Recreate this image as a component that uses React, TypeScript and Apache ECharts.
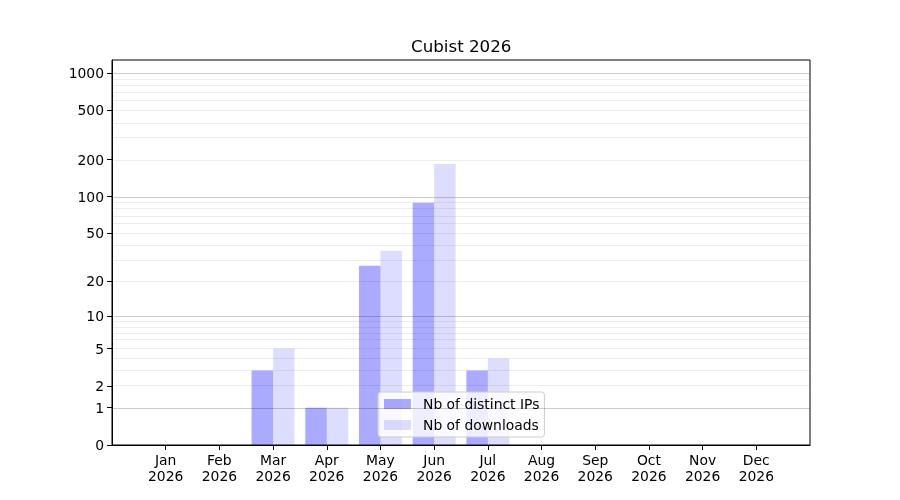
import React, { useEffect, useRef } from "react";
import * as echarts from "echarts";

const MONTHS = ["Jan", "Feb", "Mar", "Apr", "May", "Jun", "Jul", "Aug", "Sep", "Oct", "Nov", "Dec"];
const YEAR = "2026";
const DISTINCT_IPS = [0, 0, 3, 1, 27, 89, 3, 0, 0, 0, 0, 0];
const DOWNLOADS = [0, 0, 5, 1, 36, 184, 4, 0, 0, 0, 0, 0];
const Y_TICKS = [0, 1, 2, 5, 10, 20, 50, 100, 200, 500, 1000];
const MAJOR_GRID = [1, 10, 100, 1000];
const MINOR_GRID = [2, 3, 4, 5, 6, 7, 8, 9, 20, 30, 40, 50, 60, 70, 80, 90, 200, 300, 400, 500, 600, 700, 800, 900];
const Y_MAX = 1278;

const tf = (v: number) => Math.log10(1 + v);
const FONT = "DejaVu Sans";

export default function App() {
  const ref = useRef<HTMLDivElement>(null);
  useEffect(() => {
    if (!ref.current) return;
    const chart = echarts.init(ref.current, null, { renderer: "svg" });
    const cats = ["", ...MONTHS, ""];
    const pad = (arr: number[]) => [null, ...arr.map(tf), null];
    chart.setOption({
      animation: false,
      textStyle: { fontFamily: FONT },
      title: {
        text: "Cubist " + YEAR,
        left: 411,
        top: 37,
        padding: 0,
        textStyle: { fontFamily: FONT, fontSize: 16.7, fontWeight: "normal", color: "#000", lineHeight: 18 },
      },
      legend: {
        orient: "vertical",
        left: 378,
        top: 392,
        padding: [5, 5, 5, 6],
        itemWidth: 27,
        itemHeight: 10,
        itemGap: 7,
        icon: "rect",
        backgroundColor: "rgba(255,255,255,0.8)",
        borderColor: "#cccccc",
        borderWidth: 1,
        borderRadius: 3,
        textStyle: { fontFamily: FONT, fontSize: 13.9, color: "#000", padding: [0, 0, 0, 7] },
        data: ["Nb of distinct IPs", "Nb of downloads"],
      },
      grid: {
        left: 112,
        right: 90,
        top: 60,
        bottom: 55,
        show: true,
        borderColor: "#000",
        borderWidth: 1,
        backgroundColor: "transparent",
      },
      xAxis: {
        type: "category",
        data: cats,
        boundaryGap: false,
        axisLine: { show: true, lineStyle: { color: "#000", width: 1 } },
        axisTick: {
          show: true,
          length: 5,
          lineStyle: { color: "#000" },
          interval: (i: number) => i > 0 && i < cats.length - 1,
        },
        axisLabel: {
          interval: 0,
          margin: 7,
          fontFamily: FONT,
          fontSize: 13.9,
          lineHeight: 16,
          color: "#000",
          formatter: (v: string) => (v ? v + "\n" + YEAR : ""),
        },
        splitLine: { show: false },
      },
      yAxis: {
        type: "value",
        min: 0,
        max: tf(Y_MAX),
        axisLine: { show: true, lineStyle: { color: "#000", width: 1 } },
        axisTick: { show: true, length: 5, lineStyle: { color: "#000" }, customValues: Y_TICKS.map(tf) },
        axisLabel: {
          customValues: Y_TICKS.map(tf),
          margin: 8,
          fontFamily: FONT,
          fontSize: 13.9,
          color: "#000",
          formatter: (v: number) => String(Math.round(Math.pow(10, v) - 1)),
        },
        splitLine: { show: false },
      },
      series: [
        {
          name: "Nb of distinct IPs",
          type: "bar",
          data: pad(DISTINCT_IPS),
          barWidth: "40%",
          barGap: "0%",
          itemStyle: { color: "rgba(0,0,255,0.333)" },
          z: 2,
        },
        {
          name: "Nb of downloads",
          type: "bar",
          data: pad(DOWNLOADS),
          barWidth: "40%",
          barGap: "0%",
          itemStyle: { color: "rgba(0,0,255,0.134)" },
          z: 2,
        },
        {
          name: "gridMinor",
          type: "line",
          data: [],
          z: 3,
          silent: true,
          markLine: {
            silent: true,
            symbol: ["none", "none"],
            label: { show: false },
            lineStyle: { color: "rgba(0,0,0,0.07)", width: 1, type: "solid" },
            emphasis: { disabled: true },
            data: MINOR_GRID.map((v) => ({ yAxis: tf(v) })),
          },
        },
        {
          name: "gridMajor",
          type: "line",
          data: [],
          z: 3,
          silent: true,
          markLine: {
            silent: true,
            symbol: ["none", "none"],
            label: { show: false },
            lineStyle: { color: "rgba(0,0,0,0.2)", width: 1, type: "solid" },
            emphasis: { disabled: true },
            data: MAJOR_GRID.map((v) => ({ yAxis: tf(v) })),
          },
        },
      ],
    });
    return () => chart.dispose();
  }, []);
  return <div ref={ref} style={{ position: "fixed", left: 0, top: 0, width: 900, height: 500 }} />;
}
